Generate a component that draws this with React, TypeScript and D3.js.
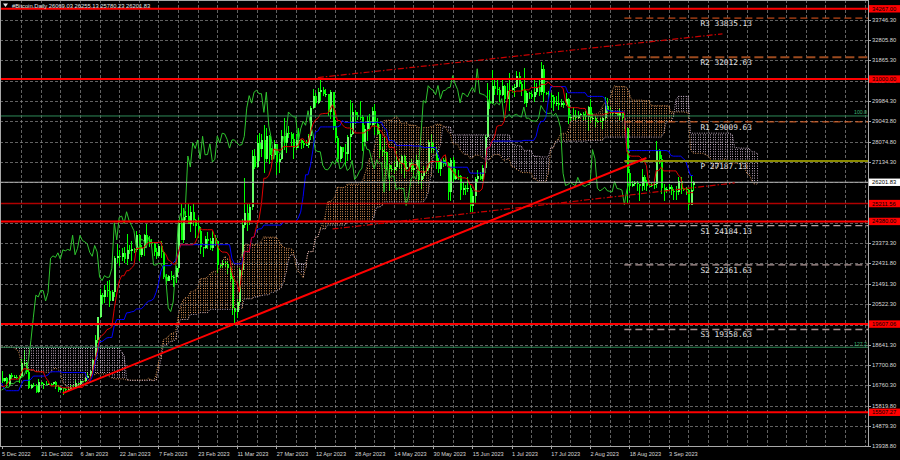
import * as d3 from "d3";
import React, { useEffect, useRef } from "react";

// 19 Sep 2022 - 4 Dec 2022, only used to warm up the Ichimoku lines
const preHighs = [
  19690, 19640, 19950, 19490, 19500, 19310, 19180, 19310, 20380, 19780, 19640, 20180,
  19480, 19400, 19700, 20460, 20360, 20450, 20050, 19620, 19520, 19510, 19220, 19220, 19520, 19950, 19210, 19410,
  19660, 19700, 19350, 19340, 19240, 19260, 19690, 19600, 20410, 20880, 20860, 20750, 21080, 20920, 20850,
  20690, 20800, 20390, 21300, 21480, 21360, 21050, 20670, 18590, 18130, 17640, 17070, 16870, 17160, 17000,
  16990, 16740, 16860, 16800, 16740, 16290, 16250, 16700, 16810, 16610, 16690, 16600, 16480, 16530, 17200,
  17320, 17100, 17150, 17200,
];
const preLows = [
  18270, 18700, 18130, 18360, 18560, 18820, 18630, 18680, 18820, 18480, 18870, 19160,
  19160, 18920, 19000, 19510, 19740, 19850, 19340, 19380, 19320, 19050, 18900, 19020, 18190, 19100, 18980, 19070,
  19160, 19100, 19070, 18920, 18710, 19100, 19070, 19160, 19240, 20060, 20230, 20020, 20560, 20520, 20240,
  20350, 20060, 20050, 20180, 21080, 20890, 20410, 17170, 15590, 15800, 16400, 16550, 16230, 15850, 16540,
  16400, 16420, 16570, 16550, 16260, 15600, 15700, 16170, 16470, 16360, 16440, 16400, 16000, 16110, 16430,
  16860, 16790, 16880, 16880,
];
const preCloses = [
  19540, 18880, 18490, 19410, 19290, 18920, 18810, 19220, 19090, 19410, 19590, 19420,
  19310, 19060, 19630, 20340, 20160, 19960, 19530, 19420, 19450, 19130, 19060, 19150, 19380, 19180, 19070, 19270,
  19550, 19330, 19130, 19040, 19170, 19210, 19570, 19330, 20090, 20770, 20290, 20590, 20820, 20630, 20490,
  20480, 20160, 20210, 21150, 21300, 20910, 20600, 18540, 15880, 17590, 17070, 16810, 16330, 16620, 16900,
  16660, 16690, 16700, 16640, 16280, 15780, 16190, 16610, 16600, 16520, 16460, 16440, 16210, 16440, 17170,
  16970, 17090, 16890, 17110,
];

// daily bars, 5 Dec 2022 - 13 Sep 2023
const highs = [
  17420, 17100, 17140, 17290, 17350, 17220, 17260, 17240, 17970, 18380, 17850, 17530, 16800, 16860, 16810, 17060,
  16900, 16870, 16950, 16870, 16860, 16920, 16960, 16780, 16650, 16640, 16620,
  16630, 16760, 16770, 16990, 16880, 16990, 16970, 17170, 17390, 17490, 17990, 19100, 19950, 21260, 21040, 21440,
  21600, 21640, 21190, 22760, 23310, 23060, 23160, 23180, 23780, 23290, 23490, 23160, 23950, 23790, 23300,
  23800, 24250, 23700, 23580, 23430, 23160, 23340, 23450, 23010, 21940, 21890, 22070, 21890, 22320, 24370, 25240,
  24990, 24880, 25190, 25120, 25250, 24480, 24600, 24130, 23210, 23690, 23880, 23600,
  23940, 23770, 23480, 22410, 22610, 22560, 22550, 22270, 21810, 20370, 20780, 22200, 24500, 26380, 25250, 25210,
  27700, 27740, 28400, 28500, 28450, 28850, 28730, 28390, 27800, 28170, 28000, 27520, 28650, 29170, 28640,
  28800, 28530, 28480, 28430, 28740, 28190, 28100, 28160, 28460, 29770, 30520, 30370, 30600, 31000, 30620,
  30550, 30320, 30480, 30410, 29080, 28370, 27890, 27820, 28000, 28390, 30020, 29890, 29570, 29450, 29960,
  29330, 28880, 29260, 29370, 29680, 29830, 29170, 28630, 27840, 28330, 27620, 27040, 27020, 27190, 27650, 27270,
  27490, 27470, 27180, 27150, 27270, 27050, 27480, 27220, 26640, 26940, 26890, 28160, 28450, 28050, 27830,
  27350, 27300, 27320, 27460, 27130, 27340, 27370, 26800, 26780, 26530, 26200, 26080, 26430, 26080, 25750,
  26460, 26770, 26690, 26990, 28400, 30800, 30500, 31430, 31040, 31050, 30650, 31000, 30710, 30840, 31280,
  30660, 30790, 31380, 31320, 30880, 31500, 30450, 30380, 30440, 31050, 30800, 30990, 31800, 31640, 30400, 30460,
  30340, 30240, 30190, 30410, 30050, 29990, 30340, 30100, 29370, 29690, 29570, 29530, 29410, 29450, 29530,
  29740, 30050, 29410, 29310, 29100, 29170, 29240, 30180, 30120, 29720, 29540, 29470, 29460, 29660, 29440, 29220,
  28780, 26820, 26260, 26280, 26250, 26130, 26810, 26550, 26290, 26100, 26170, 26210, 28130, 27760, 27490,
  26120, 25980, 26130, 26090, 25880, 26020, 26430, 26440, 25940, 26000, 25900, 26540, 26255.13,
];
const lows = [
  16880, 16910, 16680, 16740, 17070, 17090, 17070, 16870, 17090, 17660, 17280, 16580, 16580, 16660, 16400, 16400,
  16760, 16590, 16770, 16790, 16740, 16780, 16600, 16470, 16490, 16330, 16480,
  16500, 16570, 16620, 16660, 16750, 16680, 16910, 16910, 17100, 17150, 17310, 17890, 18720, 19890, 20550, 20610,
  20850, 20400, 20660, 20880, 22440, 22300, 22520, 22470, 22350, 22850, 22530, 22890, 22980, 22550, 22720,
  22760, 23370, 23210, 23260, 22750, 22630, 22740, 22680, 21690, 21470, 21600, 21640, 21350, 21530, 22050, 23500,
  23360, 24470, 24250, 23880, 24150, 23600, 23630, 22860, 22740, 23080, 23110, 23030,
  23020, 23220, 21970, 22200, 22200, 22270, 21930, 21580, 20040, 19570, 19900, 20450, 21900, 24070, 23930, 24200,
  24900, 26840, 26880, 27170, 27380, 26650, 27140, 27040, 27220, 27440, 26550, 26650, 27250, 27720, 27560,
  28250, 27890, 27280, 27680, 27800, 27740, 27780, 27870, 27810, 28180, 29630, 29720, 29860, 29970, 30220,
  30150, 29270, 29120, 28610, 28010, 27140, 27140, 27340, 26970, 27210, 27240, 28380, 28920, 29100, 29100,
  27660, 27880, 28130, 28680, 28800, 28390, 28390, 27320, 27380, 26850, 26750, 25810, 26700, 26600, 26730, 26860,
  26580, 26390, 26670, 26840, 26690, 26560, 26820, 26110, 25880, 26350, 26570, 26790, 27560, 27550, 26840,
  26610, 26510, 26920, 26960, 25400, 25350, 26150, 26310, 26310, 25400, 25610, 25600, 25730, 24820, 24800,
  25170, 26160, 26290, 26260, 26650, 28270, 29600, 29830, 30280, 30270, 29930, 30230, 29870, 30050, 29500,
  30330, 30170, 30580, 30640, 30200, 29850, 29710, 30050, 30080, 29950, 30280, 30200, 30250, 29940, 30260, 30090,
  29660, 29500, 29750, 29570, 29720, 29640, 29740, 28930, 29060, 29110, 29090, 29130, 29260, 29040, 29100,
  28590, 28950, 29100, 28750, 28960, 28990, 28700, 29110, 29380, 29350, 29260, 29360, 29260, 29080, 29060, 28700,
  25170, 25800, 25990, 26010, 25810, 25350, 25800, 25850, 25780, 25970, 25980, 25870, 25920, 27040, 25670,
  25330, 25710, 25780, 25600, 25390, 25380, 25630, 25640, 25810, 25600, 24900, 25140, 25780.23,
];
const closes = [
  16970, 17090, 16840, 17220, 17130, 17130, 17090, 17210, 17780, 17810, 17360, 16630, 16780, 16740, 16440, 16900,
  16820, 16830, 16780, 16840, 16830, 16920, 16700, 16550, 16630, 16600, 16540,
  16610, 16670, 16670, 16850, 16830, 16950, 16940, 17120, 17180, 17440, 17940, 18850, 19930, 20950, 20870, 21170,
  21160, 20680, 21080, 22670, 22780, 22710, 22920, 22620, 23060, 23010, 23080, 23030, 23740, 22830, 23130,
  23730, 23490, 23430, 23330, 22940, 22760, 23260, 22960, 21800, 21630, 21860, 21780, 21790, 22200, 24320, 23520,
  24570, 24630, 24280, 24830, 24430, 24190, 23950, 23190, 23150, 23560, 23490, 23140,
  23630, 23470, 22360, 22350, 22430, 22410, 22200, 21700, 20360, 20190, 20630, 22140, 24200, 24750, 24390, 25050,
  27420, 26910, 28040, 27770, 28170, 27280, 28340, 27480, 27490, 27990, 27140, 27270, 28350, 28030, 28480,
  28450, 28200, 27790, 28170, 28170, 28030, 27920, 27950, 28330, 29650, 30230, 29880, 30390, 30480, 30320,
  30320, 29450, 30390, 28820, 28250, 27270, 27820, 27590, 27510, 28310, 28430, 29470, 29340, 29250, 29230,
  28070, 28680, 29030, 28850, 29530, 28900, 28450, 27690, 27630, 27620, 26990, 26800, 26780, 26920, 27170, 27030,
  27400, 26820, 26890, 27120, 26750, 26850, 27220, 26330, 26480, 26720, 26860, 28080, 27740, 27700, 27210,
  26820, 27250, 27070, 27120, 25740, 27240, 26350, 26500, 26480, 25850, 25940, 25900, 25920, 25120, 25580,
  26340, 26510, 26340, 26850, 28310, 30000, 29890, 30690, 30550, 30480, 30270, 30700, 30080, 30450, 30480,
  30590, 30620, 31160, 30770, 30510, 29900, 30350, 30290, 30170, 30420, 30620, 30390, 31480, 30330, 30300, 30250,
  30150, 29860, 29910, 29800, 29910, 29800, 30090, 29180, 29230, 29350, 29210, 29320, 29360, 29280, 29230,
  29700, 29180, 29180, 29070, 29050, 29040, 29180, 29770, 29580, 29430, 29400, 29420, 29290, 29410, 29170, 28720,
  26620, 26050, 26100, 26190, 26120, 26040, 26430, 26170, 26050, 26010, 26090, 26110, 27720, 27300, 25930,
  25800, 25870, 25970, 25810, 25780, 25750, 26240, 25910, 25890, 25840, 25160, 25840, 26201.83,
];
const lastOpen = 26069.03;
const headerText = "#Bitcoin.Daily  26069.03 26255.13 25780.23 26201.83";

const dateLabels = [
  "5 Dec 2022", "21 Dec 2022", "6 Jan 2023", "22 Jan 2023", "7 Feb 2023", "23 Feb 2023",
  "11 Mar 2023", "27 Mar 2023", "12 Apr 2023", "28 Apr 2023", "14 May 2023", "30 May 2023",
  "15 Jun 2023", "1 Jul 2023", "17 Jul 2023", "2 Aug 2023", "18 Aug 2023", "3 Sep 2023",
];
const priceTicks = [
  33746.3, 32805.8, 31865.3, 30924.8, 29984.3, 29043.8, 28074.8, 27134.3, 26193.8, 25253.3, 24312.8,
  23373.3, 22431.8, 21491.3, 20522.3, 19581.8, 18641.3, 17700.8, 16760.3, 15819.8, 14879.3, 13938.8,
];

// horizontal levels drawn on the chart
const redLevels = [34267.0, 31000.0, 24380.0, 19607.06, 15507.27];
const minorLevel = 25211.56;
const fiboNames = ["100.0", "127.2"];
const fiboValues = [29284, 18530];
const pivotNames = ["R3", "R2", "R1", "P", "S1", "S2", "S3"];
const pivotValues = [33835.13, 32012.63, 29009.63, 27187.13, 24184.13, 22361.63, 19358.63];
const pivotStartBar = 254;
const pivotLabelBar = 285;

// trend lines: [bar, price] anchors
const trendLine = [[25, 16400], [263, 27330]];
const channelTop = [[129, 31070], [294, 33100]];
const channelBottom = [[135, 24030], [299, 26170]];

const App: React.FC = () => {
  const ref = useRef<SVGSVGElement>(null);

  useEffect(() => {
    document.body.style.margin = "0";
    const width = 900;
    const height = 460;
    const plotRight = 868;
    const plotBottom = 446;
    const axisFont = "'Liberation Sans', Arial, sans-serif";

    d3.select(ref.current).selectAll("*").remove();
    const svg = d3.select(ref.current).attr("width", width).attr("height", height);

    svg.append("rect").attr("width", width).attr("height", height).attr("fill", "#000");

    const pre = preHighs.length;
    const n = highs.length;
    const allHighs = preHighs.concat(highs);
    const allLows = preLows.concat(lows);
    const allCloses = preCloses.concat(closes);
    const opens = closes.map((_, b) => (b === n - 1 ? lastOpen : allCloses[pre + b - 1]));

    const x = d3.scaleLinear().domain([0, 272]).range([1.5, 668.5]);
    const y = d3.scaleLinear().domain([13938.8, 33746.3]).range([plotBottom, 20]);

    // Ichimoku 9/26/52
    const mid = (end: number, len: number) => {
      const hi = d3.max(allHighs.slice(end - len + 1, end + 1))!;
      const lo = d3.min(allLows.slice(end - len + 1, end + 1))!;
      return (hi + lo) / 2;
    };
    const tenkan = d3.range(n).map((b) => mid(pre + b, 9));
    const kijun = d3.range(n).map((b) => mid(pre + b, 26));
    const cloud = d3.range(n + 26).map((b) => {
      const i = pre + b - 26;
      return { b, a: (mid(i, 9) + mid(i, 26)) / 2, s: mid(i, 52) };
    });
    const chikou = d3.range(n - 26).map((b) => closes[b + 26]);

    svg.append("defs").append("clipPath").attr("id", "plot")
      .append("rect").attr("width", plotRight).attr("height", plotBottom);
    const plot = svg.append("g").attr("clip-path", "url(#plot)");

    // grid
    const grid = plot.append("g")
      .attr("stroke", "#8a8a8a").attr("stroke-width", 0.7).attr("stroke-dasharray", "2.5,2.5")
      .attr("shape-rendering", "crispEdges");
    grid.selectAll("line.h").data(priceTicks).join("line").attr("class", "h")
      .attr("x1", 0).attr("x2", plotRight)
      .attr("y1", (d) => Math.round(y(d)) + 0.5).attr("y2", (d) => Math.round(y(d)) + 0.5);
    const vBars = d3.range(8, 360, 8).filter((b) => x(b) < plotRight - 1);
    grid.selectAll("line.v").data(vBars).join("line").attr("class", "v")
      .attr("x1", (d) => Math.round(x(d)) + 0.5).attr("x2", (d) => Math.round(x(d)) + 0.5)
      .attr("y1", 0).attr("y2", plotBottom);

    // candles
    const bars = d3.range(n);
    const gCandles = plot.append("g").attr("shape-rendering", "crispEdges");
    gCandles.selectAll("line").data(bars).join("line")
      .attr("x1", (b) => Math.round(x(b)) + 0.5).attr("x2", (b) => Math.round(x(b)) + 0.5)
      .attr("y1", (b) => y(highs[b])).attr("y2", (b) => y(lows[b]))
      .attr("stroke", "#00ff00").attr("stroke-width", 1);
    gCandles.selectAll("rect").data(bars).join("rect")
      .attr("x", (b) => Math.round(x(b)) - 0.5)
      .attr("width", 2)
      .attr("y", (b) => Math.min(y(opens[b]), y(closes[b])))
      .attr("height", (b) => Math.max(Math.abs(y(opens[b]) - y(closes[b])), 1))
      .attr("fill", (b) => (closes[b] >= opens[b] ? "#66ff66" : "#00ff00"));

    // cloud hatch
    const top = (d: { a: number; s: number }) => Math.min(y(d.a), y(d.s));
    plot.append("g").selectAll("line").data(cloud).join("line")
      .attr("x1", (d) => Math.round(x(d.b)) + 0.5).attr("x2", (d) => Math.round(x(d.b)) + 0.5)
      .attr("y1", (d) => top(d)).attr("y2", (d) => Math.max(y(d.a), y(d.s)))
      .attr("stroke", (d) => (d.a >= d.s ? "#f4a460" : "#d8bfd8"))
      .attr("stroke-width", 1)
      .attr("stroke-dasharray", "1,1.4")
      .attr("stroke-dashoffset", (d) => top(d) % 2.4)
      .attr("opacity", 0.85);

    const spanLine = (key: "a" | "s") =>
      d3.line<{ b: number; a: number; s: number }>().x((d) => x(d.b)).y((d) => y(d[key]));
    plot.append("path").attr("d", spanLine("a")(cloud)).attr("fill", "none")
      .attr("stroke", "#f4a460").attr("stroke-dasharray", "1,1.4").attr("opacity", 0.85);
    plot.append("path").attr("d", spanLine("s")(cloud)).attr("fill", "none")
      .attr("stroke", "#d8bfd8").attr("stroke-dasharray", "1,1.4").attr("opacity", 0.85);

    const seriesLine = d3.line<number>().x((_, i) => x(i)).y((d) => y(d));
    plot.append("path").attr("d", seriesLine(chikou)).attr("fill", "none")
      .attr("stroke", "#2ec42e").attr("stroke-width", 1);
    plot.append("path").attr("d", seriesLine(kijun)).attr("fill", "none")
      .attr("stroke", "#0000ff").attr("stroke-width", 1);
    plot.append("path").attr("d", seriesLine(tenkan)).attr("fill", "none")
      .attr("stroke", "#e00000").attr("stroke-width", 1);

    // fibo levels
    plot.selectAll("line.fibo").data(fiboValues).join("line").attr("class", "fibo")
      .attr("x1", 0).attr("x2", plotRight)
      .attr("y1", (d) => y(d)).attr("y2", (d) => y(d))
      .attr("stroke", "#2e8b57").attr("stroke-width", 1);
    plot.selectAll("text.fibo").data(fiboValues).join("text").attr("class", "fibo")
      .attr("x", plotRight - 1).attr("y", (d) => y(d) - 1.5)
      .attr("text-anchor", "end").attr("font-family", axisFont).attr("font-size", 5.2)
      .attr("fill", "#3cb371").text((_, i) => fiboNames[i]);

    // bid line
    const bid = closes[n - 1];
    plot.append("line").attr("x1", 0).attr("x2", plotRight)
      .attr("y1", y(bid)).attr("y2", y(bid)).attr("stroke", "#b4b4b4").attr("stroke-width", 1);

    // red horizontal levels
    plot.append("line").attr("x1", 0).attr("x2", plotRight)
      .attr("y1", y(minorLevel)).attr("y2", y(minorLevel))
      .attr("stroke", "#b00000").attr("stroke-width", 1.5);
    plot.selectAll("line.level").data(redLevels).join("line").attr("class", "level")
      .attr("x1", 0).attr("x2", plotRight)
      .attr("y1", (d) => y(d)).attr("y2", (d) => y(d))
      .attr("stroke", "#ff0000").attr("stroke-width", 2);

    // pivot levels
    const pivotStroke = ["#e8581c", "#9c4a1e", "#f06a28", "#8a8a00", "#b49c9c", "#b49c9c", "#a88f8f"];
    const pivotWidth = [1, 2, 1, 2, 1.3, 1.3, 1.6];
    const pivotDash = ["7,4", "9,4", "7,4", null, "7,4", "7,4", "7,4"];
    plot.selectAll("line.pivot").data(pivotValues).join("line").attr("class", "pivot")
      .attr("x1", x(pivotStartBar)).attr("x2", plotRight)
      .attr("y1", (d) => y(d)).attr("y2", (d) => y(d))
      .attr("stroke", (_, i) => pivotStroke[i])
      .attr("stroke-width", (_, i) => pivotWidth[i])
      .attr("stroke-dasharray", (_, i) => pivotDash[i]);
    plot.selectAll("text.pivot").data(pivotValues).join("text").attr("class", "pivot")
      .attr("x", x(pivotLabelBar)).attr("y", (d) => y(d) + 8)
      .attr("font-family", "'DejaVu Sans Mono', monospace").attr("font-size", 7.8)
      .attr("fill", "#e0e0e0")
      .text((d, i) => `${pivotNames[i]} ${d.toFixed(2)}`);

    // trend lines
    const anchorLine = d3.line<number[]>().x((d) => x(d[0])).y((d) => y(d[1]));
    plot.append("path").attr("d", anchorLine(channelTop)).attr("stroke", "#c80000")
      .attr("stroke-width", 1.2).attr("stroke-dasharray", "6,2,1.5,2").attr("fill", "none");
    plot.append("path").attr("d", anchorLine(channelBottom)).attr("stroke", "#c80000")
      .attr("stroke-width", 1.2).attr("stroke-dasharray", "6,2,1.5,2").attr("fill", "none");
    plot.append("path").attr("d", anchorLine(trendLine)).attr("stroke", "#ff0000")
      .attr("stroke-width", 2).attr("fill", "none");

    // frame
    svg.append("rect").attr("x", 0.5).attr("y", 0.5)
      .attr("width", plotRight).attr("height", plotBottom - 0.5)
      .attr("fill", "none").attr("stroke", "#a8a8a8").attr("stroke-width", 1)
      .attr("shape-rendering", "crispEdges");

    // price axis
    const axis = svg.append("g").attr("font-family", axisFont).attr("font-size", 5.8);
    axis.selectAll("line").data(priceTicks).join("line")
      .attr("x1", plotRight).attr("x2", plotRight + 3)
      .attr("y1", (d) => Math.round(y(d)) + 0.5).attr("y2", (d) => Math.round(y(d)) + 0.5)
      .attr("stroke", "#a8a8a8");
    axis.selectAll("text").data(priceTicks).join("text")
      .attr("x", plotRight + 4).attr("y", (d) => y(d) + 2)
      .attr("fill", "#d8d8d8").text((d) => d.toFixed(2));

    const boxes = [
      ...redLevels.map((v) => ({ v, fill: "#ff0000", text: "#000" })),
      { v: minorLevel, fill: "#ff0000", text: "#000" },
      { v: bid, fill: "#ffffff", text: "#000" },
    ];
    const box = svg.append("g").selectAll("g").data(boxes).join("g");
    box.append("rect").attr("x", plotRight + 1).attr("y", (d) => y(d.v) - 3.7)
      .attr("width", width - plotRight - 1).attr("height", 7.4).attr("fill", (d) => d.fill);
    box.append("text").attr("x", plotRight + 4).attr("y", (d) => y(d.v) + 2)
      .attr("font-family", axisFont).attr("font-size", 5.8)
      .attr("fill", (d) => d.text).text((d) => d.v.toFixed(2));

    // time axis
    const tAxis = svg.append("g").attr("font-family", axisFont).attr("font-size", 5.6);
    tAxis.selectAll("line").data(dateLabels).join("line")
      .attr("x1", (_, i) => Math.round(x(i * 16)) + 0.5).attr("x2", (_, i) => Math.round(x(i * 16)) + 0.5)
      .attr("y1", plotBottom).attr("y2", plotBottom + 3).attr("stroke", "#a8a8a8");
    tAxis.selectAll("text").data(dateLabels).join("text")
      .attr("x", (_, i) => x(i * 16) + 0.5).attr("y", plotBottom + 9.5)
      .attr("fill", "#d8d8d8").text((d) => d);

    // header
    svg.append("path").attr("d", "M3,3.5 L8,3.5 L5.5,7 Z").attr("fill", "#e6e6e6");
    svg.append("text").attr("x", 12).attr("y", 7.5)
      .attr("font-family", axisFont).attr("font-size", 5.8)
      .attr("fill", "#e6e6e6").text(headerText);
  }, []);

  return <svg ref={ref} style={{ position: "absolute", left: 0, top: 0, display: "block" }}></svg>;
};

export default App;
